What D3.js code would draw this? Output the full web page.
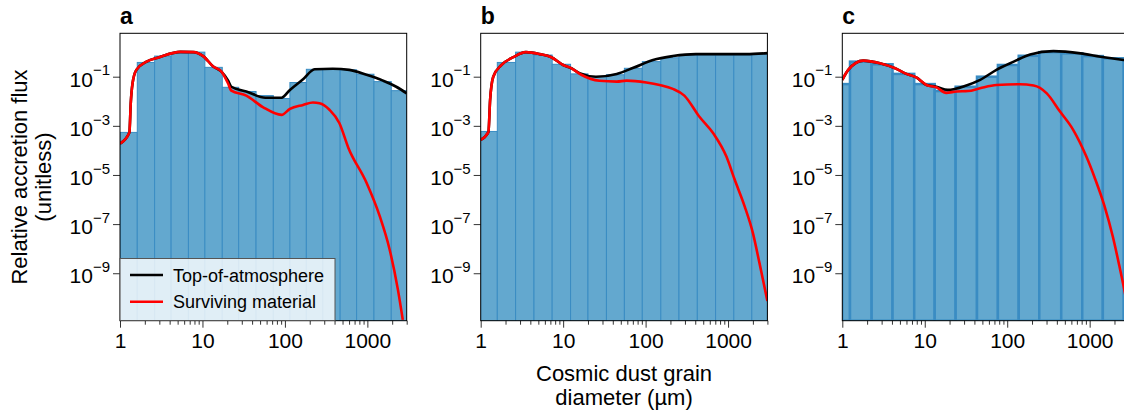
<!DOCTYPE html>
<html>
<head>
<meta charset="utf-8">
<script src="https://d3js.org/d3.v7.min.js"></script>
<style>
body { margin: 0; background: #fff; }
svg text { font-family: "Liberation Sans", Arial, sans-serif; fill: #000; }
</style>
</head>
<body>
<svg width="1124" height="414"></svg>
<script>
const width = 1124;
const height = 414;

// plot box of each panel
const plotTop = 33.3;
const plotBottom = 320.7;
const panelWidth = 286.7;
const panelLefts = [120, 480.7, 842.3];

const panelLabels = ["a", "b", "c"];
const xDomain = [1, 3000];
const yDomain = [1.17e-11, 5.84];
const xTickLabels = [1, 10, 100, 1000];
const yTickExps = [-1, -3, -5, -7, -9];

// histogram bins (grain diameter, µm) and bar heights
const binEdgesA = [1, 1.62, 2.63, 4.17, 6.76, 10.7, 17.4, 27.5, 44.7, 72.4, 115, 182, 288, 468, 741, 1202, 1950, 3000];
const barsA = [5.4e-4, 0.38, 0.69, 0.89, 1.0, 0.24, 0.037, 0.025, 0.017, 0.013, 0.058, 0.20, 0.20, 0.19, 0.126, 0.063, 0.027];

const binEdgesB = [1, 1.59, 2.65, 4.43, 7.36, 12.3, 20.0, 33.5, 55.3, 91.2, 153, 254, 424, 706, 1175, 1941, 3000];
const barsB = [5.9e-4, 0.38, 1.0, 0.76, 0.32, 0.13, 0.10, 0.12, 0.22, 0.41, 0.59, 0.74, 0.76, 0.76, 0.76, 0.83];

const binEdgesC = [1, 1.24, 2.27, 4.07, 7.45, 13.2, 23.7, 43.0, 77.1, 138, 245, 452, 813, 1445, 2594, 4677];
const barsC = [0.05, 0.41, 0.32, 0.13, 0.05, 0.026, 0.039, 0.10, 0.30, 0.71, 1.0, 0.89, 0.69, 0.56, 0.5];

// top-of-atmosphere curves [diameter, flux]
const toaA = [[1, 1.9e-4], [1.30, 5.4e-4], [1.35, 8.3e-3], [1.42, 0.054], [1.58, 0.19], [2.1, 0.41], [3.0, 0.62],
    [5.4, 1.02], [7.8, 1.0], [10.2, 0.69], [13.5, 0.26], [17, 0.16], [20.4, 0.07], [22.4, 0.039], [34, 0.025],
    [58, 0.014], [91, 0.014], [115, 0.029], [166, 0.078], [229, 0.20], [380, 0.21], [603, 0.19], [977, 0.12],
    [1549, 0.069], [2239, 0.039], [3000, 0.021]];
const toaB = [[1, 2.7e-4], [1.24, 5.5e-4], [1.30, 0.011], [1.42, 0.10], [1.79, 0.30], [2.48, 0.62], [3.53, 1.0],
    [5.2, 0.83], [7.2, 0.62], [10, 0.30], [12.6, 0.22], [15.8, 0.14], [25, 0.10], [44.7, 0.13], [71, 0.23],
    [123, 0.48], [214, 0.69], [407, 0.83], [794, 0.83], [1660, 0.83], [3000, 0.91]];
const toaC = [[1, 0.074], [1.18, 0.19], [1.80, 0.45], [2.86, 0.35], [4.37, 0.22], [6.0, 0.13], [7.9, 0.093],
    [10.5, 0.046], [13.8, 0.039], [19, 0.029], [32, 0.044], [47, 0.074], [74, 0.19], [120, 0.41], [190, 0.81],
    [363, 1.1], [776, 0.89], [1349, 0.65], [2570, 0.48], [3000, 0.45]];

// surviving material curves [diameter, flux]
const survA = [[1, 1.9e-4], [1.30, 5.4e-4], [1.35, 8.3e-3], [1.42, 0.054], [1.58, 0.19], [2.1, 0.41], [3.0, 0.62],
    [5.4, 1.02], [7.8, 1.0], [10.2, 0.69], [13.5, 0.26], [17, 0.16], [20.4, 0.054], [22.4, 0.027], [34, 0.017],
    [54, 5.8e-3], [91, 2.8e-3], [115, 4.9e-3], [166, 7.1e-3], [219, 8.9e-3], [263, 8.3e-3], [347, 4.5e-3],
    [457, 1.3e-3], [589, 1.26e-4], [977, 4.8e-6], [1413, 2.1e-7], [1862, 9.3e-9], [2344, 2.2e-10], [2690, 1.26e-11]];
const survB = [[1, 2.7e-4], [1.24, 5.5e-4], [1.30, 0.011], [1.42, 0.10], [1.79, 0.30], [2.48, 0.62], [3.53, 1.0],
    [5.2, 0.83], [7.2, 0.62], [10, 0.30], [12.6, 0.22], [16.6, 0.12], [27.5, 0.068], [44.7, 0.063], [59, 0.069],
    [102, 0.058], [148, 0.046], [214, 0.032], [295, 0.017], [447, 2.4e-3], [661, 5.0e-4], [955, 5.6e-5],
    [1202, 6.5e-6], [1585, 5.4e-7], [1995, 4.5e-8], [2399, 2.7e-9], [3000, 7.4e-11]];
const survC = [[1, 0.074], [1.18, 0.19], [1.80, 0.45], [2.86, 0.35], [4.37, 0.22], [6.0, 0.13], [7.9, 0.093],
    [10.5, 0.046], [13.8, 0.037], [18.2, 0.022], [24.3, 0.025], [33.5, 0.026], [46.8, 0.034], [74, 0.046],
    [141, 0.049], [209, 0.044], [302, 0.021], [437, 3.8e-3], [631, 6.9e-4], [912, 5.6e-5], [1148, 7.9e-6],
    [1514, 5.4e-7], [1905, 3.2e-8], [2291, 2.0e-9], [2570, 3.2e-10], [3000, 2e-11]];

const panels = [
    { edges: binEdgesA, bars: barsA, toa: toaA, surv: survA, edgeWidth: 1 },
    { edges: binEdgesB, bars: barsB, toa: toaB, surv: survB, edgeWidth: 1 },
    { edges: binEdgesC, bars: barsC, toa: toaC, surv: survC, edgeWidth: 2.5 }
];

const svg = d3.select("svg");

const yScale = d3.scaleLog()
    .domain(yDomain)
    .range([plotBottom, plotTop]);

// minor x ticks: 2..9 in every decade
const minorTicks = [];
[1, 10, 100, 1000].forEach(d => {
    for (let k = 2; k <= 9; k++) {
        if (d * k <= xDomain[1]) minorTicks.push(d * k);
    }
});

panels.forEach((p, i) => {
    const left = panelLefts[i];

    const xScale = d3.scaleLog()
        .domain(xDomain)
        .range([left, left + panelWidth]);

    svg.append("clipPath")
        .attr("id", "clip" + i)
        .append("rect")
        .attr("x", left)
        .attr("y", plotTop)
        .attr("width", panelWidth)
        .attr("height", plotBottom - plotTop);

    const g = svg.append("g").attr("clip-path", `url(#clip${i})`);

    // histogram bars
    g.selectAll("rect.bar")
        .data(p.bars)
        .join("rect")
        .attr("class", "bar")
        .attr("x", (d, j) => xScale(p.edges[j]))
        .attr("width", (d, j) => xScale(p.edges[j + 1]) - xScale(p.edges[j]))
        .attr("y", d => yScale(d))
        .attr("height", d => plotBottom - yScale(d))
        .attr("fill", "#63a8cf")
        .attr("stroke", "#3a8cc3")
        .attr("stroke-width", p.edgeWidth);

    const line = d3.line()
        .x(d => xScale(d[0]))
        .y(d => yScale(d[1]))
        .curve(d3.curveMonotoneX);

    g.append("path")
        .datum(p.toa)
        .attr("d", line)
        .attr("fill", "none")
        .attr("stroke", "#000")
        .attr("stroke-width", 2.6);

    g.append("path")
        .datum(p.surv)
        .attr("d", line)
        .attr("fill", "none")
        .attr("stroke", "#ff0000")
        .attr("stroke-width", 2.6);

    // x axis, major and minor ticks
    svg.append("g")
        .attr("transform", `translate(0,${plotBottom})`)
        .call(d3.axisBottom(xScale).tickValues(minorTicks).tickSize(4).tickFormat(""))
        .call(a => a.select(".domain").remove())
        .call(a => a.selectAll("line").attr("stroke", "#333"));

    svg.append("g")
        .attr("transform", `translate(0,${plotBottom})`)
        .call(d3.axisBottom(xScale).tickValues(xTickLabels).tickSize(7).tickPadding(5).tickFormat(d3.format("d")))
        .call(a => a.select(".domain").remove())
        .call(a => a.selectAll("line").attr("stroke", "#333"))
        .call(a => a.selectAll("text").attr("font-size", 21).attr("fill", "#000")
            .attr("font-family", "Liberation Sans, Arial, sans-serif"));

    // y axis with 10^n labels
    const yAxis = svg.append("g")
        .attr("transform", `translate(${left},0)`)
        .call(d3.axisLeft(yScale).tickValues(yTickExps.map(e => Math.pow(10, e))).tickSize(7).tickPadding(3).tickFormat(""))
        .call(a => a.select(".domain").remove())
        .call(a => a.selectAll("line").attr("stroke", "#333"));

    yAxis.selectAll("text")
        .attr("font-size", 21)
        .attr("fill", "#000")
        .attr("font-family", "Liberation Sans, Arial, sans-serif")
        .attr("dy", "0.45em")
        .each(function (d) {
            const t = d3.select(this);
            t.append("tspan").text("10");
            t.append("tspan")
                .attr("font-size", 15)
                .attr("dy", "-0.75em")
                .text("\u2212" + Math.abs(Math.round(Math.log10(d))));
        });

    // frame
    svg.append("rect")
        .attr("x", left)
        .attr("y", plotTop)
        .attr("width", panelWidth)
        .attr("height", plotBottom - plotTop)
        .attr("fill", "none")
        .attr("stroke", "#000")
        .attr("stroke-width", 1);

    // panel letter
    svg.append("text")
        .attr("x", left)
        .attr("y", 24)
        .attr("font-size", 23)
        .attr("font-weight", "bold")
        .text(panelLabels[i]);
});

// legend (panel a)
const legend = svg.append("g");

legend.append("rect")
    .attr("x", 120)
    .attr("y", 258.5)
    .attr("width", 215)
    .attr("height", 62)
    .attr("fill", "rgba(255,255,255,0.8)")
    .attr("stroke", "#555")
    .attr("stroke-width", 1);

[["Top-of-atmosphere", "#000"], ["Surviving material", "#ff0000"]].forEach((d, k) => {
    const yy = 275 + k * 26.7;
    legend.append("line")
        .attr("x1", 130)
        .attr("x2", 163)
        .attr("y1", yy)
        .attr("y2", yy)
        .attr("stroke", d[1])
        .attr("stroke-width", 2.6);
    legend.append("text")
        .attr("x", 173)
        .attr("y", yy + 6.5)
        .attr("font-size", 18)
        .text(d[0]);
});

// y axis label
const yLabel = svg.append("text")
    .attr("transform", `translate(0,${(plotTop + plotBottom) / 2}) rotate(-90)`)
    .attr("text-anchor", "middle")
    .attr("font-size", 22);

yLabel.append("tspan").attr("x", 0).attr("y", 27).text("Relative accretion flux");
yLabel.append("tspan").attr("x", 0).attr("y", 51).text("(unitless)");

// x axis label
const xLabel = svg.append("text")
    .attr("text-anchor", "middle")
    .attr("font-size", 22);

xLabel.append("tspan").attr("x", panelLefts[1] + panelWidth / 2).attr("y", 381).text("Cosmic dust grain");
xLabel.append("tspan").attr("x", panelLefts[1] + panelWidth / 2).attr("y", 405).text("diameter (\u00b5m)");
</script>
</body>
</html>
